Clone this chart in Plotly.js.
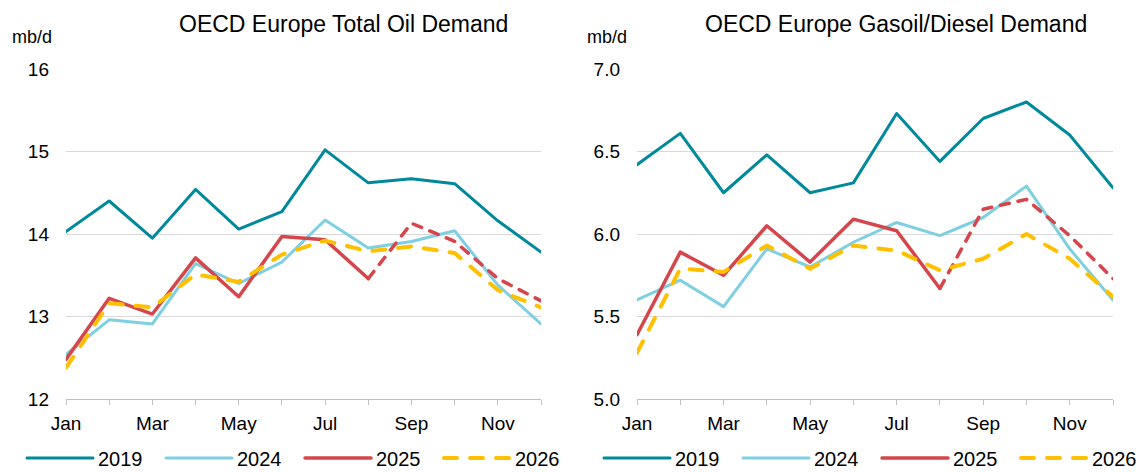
<!DOCTYPE html>
<html><head><meta charset="utf-8">
<script src="https://cdn.plot.ly/plotly-3.0.1.min.js"></script>
<style>
html,body{margin:0;padding:0;background:#fff}#c{width:1138px;height:472px}
#c .scatterlayer path.js-line, #c .legendlines path{stroke-linecap:round;stroke-linejoin:round}
</style>
</head><body><div id="c"></div>
<script>
const months = ['Jan','Feb','Mar','Apr','May','Jun','Jul','Aug','Sep','Oct','Nov','Dec'];
const tickText = ['Jan','','Mar','','May','','Jul','','Sep','','Nov',''];

// OECD Europe Total Oil Demand (mb/d)
const total2019 = [14.03,14.40,13.95,14.54,14.06,14.27,15.02,14.62,14.67,14.61,14.16,13.78];
const total2024 = [12.54,12.96,12.91,13.64,13.40,13.66,14.17,13.83,13.91,14.04,13.38,12.91];
const total2025 = [12.48,13.22,13.03,13.71,13.24,13.97,13.93,13.46,14.13,13.91,13.46,13.19];
const total2026 = [12.38,13.16,13.11,13.51,13.42,13.75,13.92,13.79,13.85,13.77,13.32,13.11];

// OECD Europe Gasoil/Diesel Demand (mb/d)
const diesel2019 = [6.42,6.61,6.25,6.48,6.25,6.31,6.73,6.44,6.70,6.80,6.60,6.28];
const diesel2024 = [5.60,5.72,5.56,5.91,5.80,5.95,6.07,5.99,6.10,6.29,5.91,5.60];
const diesel2025 = [5.39,5.89,5.75,6.05,5.83,6.09,6.02,5.67,6.15,6.21,5.99,5.73];
const diesel2026 = [5.28,5.79,5.77,5.93,5.79,5.93,5.90,5.78,5.85,6.00,5.85,5.62];

const lastActual = 7; // 2025 actual through Aug, forecast after

const C19 = '#00899B', C24 = '#7FCFE2', C25 = '#D4464B', C26 = '#FFC000';

function series(xa, ya, lg, d19, d24, d25, d26) {
  const base = {type:'scatter', mode:'lines', x: months, xaxis: xa, yaxis: ya, legend: lg};
  return [
    Object.assign({}, base, {name:'2019', y:d19, line:{color:C19, width:3}}),
    Object.assign({}, base, {name:'2024', y:d24, line:{color:C24, width:3}}),
    Object.assign({}, base, {name:'2025', y:d25.map((v,i)=> i<=lastActual ? v : null), line:{color:C25, width:3.5}}),
    Object.assign({}, base, {name:'2025f', showlegend:false, y:d25.map((v,i)=> i>=lastActual ? v : null), line:{color:C25, width:3.5, dash:'9px,9px'}}),
    Object.assign({}, base, {name:'2026', y:d26, line:{color:C26, width:4, dash:'13px,13px'}})
  ];
}

const data = [].concat(
  series('x','y','legend', total2019, total2024, total2025, total2026),
  series('x2','y2','legend2', diesel2019, diesel2024, diesel2025, diesel2026)
);

const font = {family:'Liberation Sans, Arial, sans-serif', color:'#000'};
const xax = (dom, anchor) => ({
  domain: dom, anchor: anchor, type:'category', range:[0,11],
  tickvals: months, ticktext: tickText, ticks:'outside', ticklen:5, tickcolor:'#bfbfbf',
  showline:true, linecolor:'#bfbfbf', linewidth:1, showgrid:false, zeroline:false,
  tickfont:{size:19}, automargin:false, ticklabelstandoff: 2
});
const yax = (dom, anchor, rng, dt, fmt) => ({
  domain: dom, anchor: anchor, range: rng, dtick: dt, tick0: rng[0], tickformat: fmt,
  showgrid:true, gridcolor:'#d9d9d9', gridwidth:1, zeroline:false, showline:false,
  ticks:'', tickfont:{size:19}, automargin:false, ticklabelstandoff: 16
});

const yd = [1-399/472, 1-69/472];
const legendBase = {orientation:'h', xanchor:'left', y:1-458/472, yanchor:'middle',
  font:{size:20}, bgcolor:'rgba(0,0,0,0)', entrywidth:58, itemwidth:66, tracegroupgap:0};
const layout = {
  width:1138, height:472, margin:{l:0,r:0,t:0,b:0,autoexpand:false},
  paper_bgcolor:'#fff', plot_bgcolor:'#fff', font: font,
  xaxis: xax([66/1138, 541/1138], 'y'),
  yaxis: yax(yd, 'x', [12,16], 1, 'd'),
  xaxis2: xax([637/1138, 1113/1138], 'y2'),
  yaxis2: yax(yd, 'x2', [5,7], 0.5, '.1f'),
  legend: Object.assign({}, legendBase, {x:22/1138}),
  legend2: Object.assign({}, legendBase, {x:599/1138}),
  showlegend:true,
  annotations:[
    {text:'OECD Europe Total Oil Demand', xref:'paper', yref:'paper', x:343/1138, y:1-24/472, xanchor:'center', yanchor:'middle', showarrow:false, font:{size:23}},
    {text:'OECD Europe Gasoil/Diesel Demand', xref:'paper', yref:'paper', x:896/1138, y:1-24/472, xanchor:'center', yanchor:'middle', showarrow:false, font:{size:23}},
    {text:'mb/d', xref:'paper', yref:'paper', x:10/1138, y:1-37/472, xanchor:'left', yanchor:'middle', showarrow:false, font:{size:18}},
    {text:'mb/d', xref:'paper', yref:'paper', x:585/1138, y:1-37/472, xanchor:'left', yanchor:'middle', showarrow:false, font:{size:18}}
  ]
};

Plotly.newPlot('c', data, layout, {staticPlot:true, displayModeBar:false});
</script></body></html>
